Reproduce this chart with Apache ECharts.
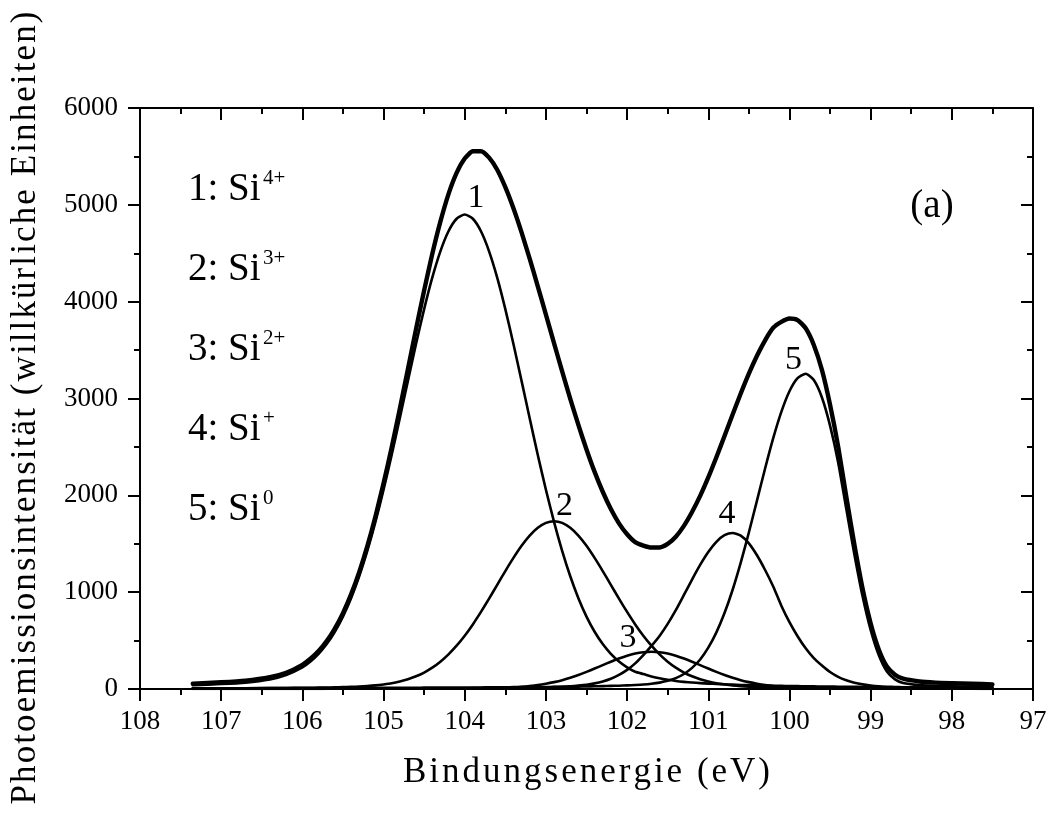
<!DOCTYPE html>
<html>
<head>
<meta charset="utf-8">
<script src="https://cdn.jsdelivr.net/npm/echarts@6/dist/echarts.min.js"></script>
<style>
html,body{margin:0;padding:0;background:#ffffff;}
#chart{width:1050px;height:834px;}
</style>
</head>
<body>
<div id="chart"></div>
<script>
// Binding energy (eV) sample positions
const energy = [107.35,107.0,106.7,106.4,106.2,
106.0,105.9,105.8,105.7,105.6,105.5,105.4,105.3,105.2,105.1,
105.0,104.9,104.8,104.7,104.6,104.5,104.4,104.3,104.2,104.1,
104.0,103.9,103.8,103.7,103.6,103.5,103.4,103.3,103.2,103.1,
103.0,102.9,102.8,102.7,102.6,102.5,102.4,102.3,102.2,102.1,
102.0,101.9,101.8,101.7,101.6,101.5,101.4,101.3,101.2,101.1,
101.0,100.9,100.8,100.7,100.6,100.5,100.4,100.3,100.2,100.1,
100.0,99.9,99.8,99.7,99.6,99.5,99.4,99.3,99.2,99.1,
99.0,98.9,98.8,98.7,98.6,98.4,98.2,98.0,97.75,97.5];

// Component 1: Si4+
const peak1 = [40,51,66,99,144,
224,284,363,464,591,748,938,1164,1427,1726,
2058,2417,2796,3182,3563,3923,4248,4520,4727,4856,
4900,4856,4727,4520,4248,3923,3563,3182,2796,2417,
2058,1726,1427,1164,938,748,591,464,363,284,
224,178,155,130,110,95,83,74,67,61,
56,52,49,45,42,40,38,36,34,32,
31,30,28,27,26,25,24,23,22,21,
20,19,18,18,17,16,15,14,13,12];

// Component 2: Si3+
const peak2 = [6,7,8,10,11,
12,13,14,15,17,19,22,25,30,37,
47,59,77,100,131,170,220,282,358,447,
550,667,796,933,1076,1218,1354,1479,1584,1665,
1716,1733,1716,1665,1584,1479,1354,1218,1076,933,
796,667,550,447,358,282,220,170,131,100,
77,59,47,37,30,25,22,19,17,15,
14,13,12,11,11,10,10,9,9,8,
8,7,7,7,7,6,5,5,5,4];

// Component 3: Si2+
const peak3 = [1,1,1,1,1,
1,1,1,2,2,2,2,2,2,2,
2,2,2,3,3,3,3,3,4,4,
4,5,6,7,9,12,16,22,30,40,
54,71,91,116,145,177,211,247,282,315,
344,366,380,385,380,366,344,315,282,247,
211,177,145,116,91,71,54,40,30,22,
16,12,9,7,6,5,4,4,4,3,
3,3,3,3,2,2,2,2,2,1];

// Component 4: Si+
const peak4 = [2,2,3,3,3,
3,4,4,4,4,4,4,4,5,5,
5,5,5,6,6,6,7,7,7,8,
8,9,9,10,11,11,12,13,14,16,
17,20,23,28,35,44,58,78,106,145,
197,265,350,445,548,672,814,971,1130,1281,
1414,1520,1588,1611,1583,1504,1381,1229,1059,860,
690,545,420,318,242,175,125,90,65,48,
37,29,24,20,18,14,12,11,9,8];

// Component 5: Si0
const peak5 = [7,8,8,9,9,
10,10,10,10,11,11,11,11,11,12,
12,12,12,13,13,14,14,14,15,15,
16,16,16,17,18,18,19,19,20,21,
21,22,23,24,25,26,28,30,32,34,
37,41,46,54,66,84,112,155,218,305,
427,585,784,1025,1305,1616,1946,2277,2590,2862,
3075,3210,3256,3190,3010,2720,2340,1860,1390,960,
610,350,180,100,62,40,32,28,25,23];

// Envelope (fit sum)
const envelope = [56,69,86,122,168,
250,312,392,495,625,784,977,1206,1475,1782,
2124,2495,2892,3304,3716,4116,4492,4826,5111,5330,
5478,5553,5554,5487,5362,5182,4964,4715,4444,4159,
3866,3572,3280,2997,2727,2474,2242,2037,1859,1711,
1598,1517,1481,1461,1462,1499,1573,1685,1828,1994,
2185,2393,2613,2834,3051,3256,3441,3601,3730,3791,
3826,3810,3725,3553,3295,2935,2503,1986,1490,1040,
678,408,232,148,106,78,66,60,54,48];

// Peak number annotations (anchor in data coordinates)
const peakNames = ['1','2','3','4','5'];
const peakLabelE = [103.86,102.77,101.99,100.77,99.95];
const peakLabelI = [5066,1893,530,1810,3401];

// Legend text
const legendMain = ['1: Si','2: Si','3: Si','4: Si','5: Si'];
const legendSup = ['4+','3+','2+','+','0'];

const xTitle = 'Bindungsenergie (eV)';
const yTitle = 'Photoemissionsintensität (willkürliche Einheiten)';
const panelTag = '(a)';

const FONT = '"Liberation Serif","Times New Roman",Times,serif';

function spaced(str, key){
  return str.split('').map(function(c){return '{'+key+'|'+c+'}';}).join('');
}

const chart = echarts.init(document.getElementById('chart'), null, {renderer:'canvas'});

function lineSeries(vals, w){
  return {
    type:'line', showSymbol:false, symbol:'none', smooth:0.2,
    lineStyle:{color:'#000', width:w, cap:'round', join:'round'},
    data: energy.map(function(e,i){return [e, vals[i]];}),
    silent:true, z: w>3?3:2
  };
}

const axisLineStyle = {color:'#000', width:2};

const graphics = [];
for (let i=0;i<legendMain.length;i++){
  graphics.push({type:'text', x:188, y:190+80*i, silent:true,
    style:{text:legendMain[i], font:'39px '+FONT, fill:'#000',
      textAlign:'left', textVerticalAlign:'middle', align:'left', verticalAlign:'middle'}});
  graphics.push({type:'text', x:263, y:178+80*i, silent:true,
    style:{text:legendSup[i], font:'21px '+FONT, fill:'#000',
      textAlign:'left', textVerticalAlign:'middle', align:'left', verticalAlign:'middle'}});
}
graphics.push({type:'text', x:932, y:207, silent:true,
  style:{text:panelTag, font:'39px '+FONT, fill:'#000',
    textAlign:'center', textVerticalAlign:'middle', align:'center', verticalAlign:'middle'}});
graphics.push({type:'text', x:588, y:773, silent:true,
  style:{text:spaced(xTitle,'c'), fill:'#000',
    rich:{c:{font:'35px '+FONT, fill:'#000', padding:[0,3,0,0]}},
    textAlign:'center', textVerticalAlign:'middle', align:'center', verticalAlign:'middle'}});
graphics.push({type:'text', x:26, y:407, rotation:Math.PI/2, silent:true,
  style:{text:spaced(yTitle,'c'), fill:'#000',
    rich:{c:{font:'35px '+FONT, fill:'#000', padding:[0,2.1,0,0]}},
    textAlign:'center', textVerticalAlign:'middle', align:'center', verticalAlign:'middle'}});

function plainNum(v){ return String(v); }

const option = {
  animation:false,
  backgroundColor:'#ffffff',
  grid:{left:140, right:17, top:108, bottom:145, containLabel:false},
  xAxis:[{
    type:'value', min:97, max:108, interval:1, inverse:true, position:'bottom',
    axisLine:{show:true, onZero:false, lineStyle:axisLineStyle},
    axisTick:{show:true, inside:false, length:12, lineStyle:axisLineStyle},
    minorTick:{show:true, splitNumber:2, length:6, lineStyle:axisLineStyle},
    axisLabel:{show:true, fontSize:27, fontFamily:FONT, color:'#000', margin:19, formatter:plainNum},
    splitLine:{show:false}, minorSplitLine:{show:false}
  },{
    type:'value', min:97, max:108, interval:1, inverse:true, position:'top',
    axisLine:{show:true, onZero:false, lineStyle:axisLineStyle},
    axisTick:{show:true, inside:true, length:12, lineStyle:axisLineStyle},
    minorTick:{show:true, splitNumber:2, length:6, lineStyle:axisLineStyle},
    axisLabel:{show:false}, splitLine:{show:false}
  }],
  yAxis:[{
    type:'value', min:0, max:6000, interval:1000, position:'left',
    axisLine:{show:true, onZero:false, lineStyle:axisLineStyle},
    axisTick:{show:true, inside:false, length:12, lineStyle:axisLineStyle},
    minorTick:{show:true, splitNumber:2, length:6, lineStyle:axisLineStyle},
    axisLabel:{show:true, fontSize:27, fontFamily:FONT, color:'#000', margin:22, formatter:plainNum},
    splitLine:{show:false}, minorSplitLine:{show:false}
  },{
    type:'value', min:0, max:6000, interval:1000, position:'right',
    axisLine:{show:true, onZero:false, lineStyle:axisLineStyle},
    axisTick:{show:true, inside:true, length:12, lineStyle:axisLineStyle},
    minorTick:{show:true, splitNumber:2, length:6, lineStyle:axisLineStyle},
    axisLabel:{show:false}, splitLine:{show:false}
  }],
  series:[
    lineSeries(peak1,2.6),
    lineSeries(peak2,2.6),
    lineSeries(peak3,2.6),
    lineSeries(peak4,2.6),
    lineSeries(peak5,2.6),
    lineSeries(envelope,4.4),
    {
      type:'scatter', symbol:'circle', symbolSize:0, silent:true,
      itemStyle:{color:'#000'},
      data: peakNames.map(function(n,i){return [peakLabelE[i], peakLabelI[i], n];}),
      label:{show:true, position:'inside', formatter:function(p){return p.data[2];},
        fontSize:34, fontFamily:FONT, color:'#000', textBorderWidth:0, opacity:1},
      z:5
    }
  ],
  graphic: graphics
};
chart.setOption(option);
</script>
</body>
</html>
